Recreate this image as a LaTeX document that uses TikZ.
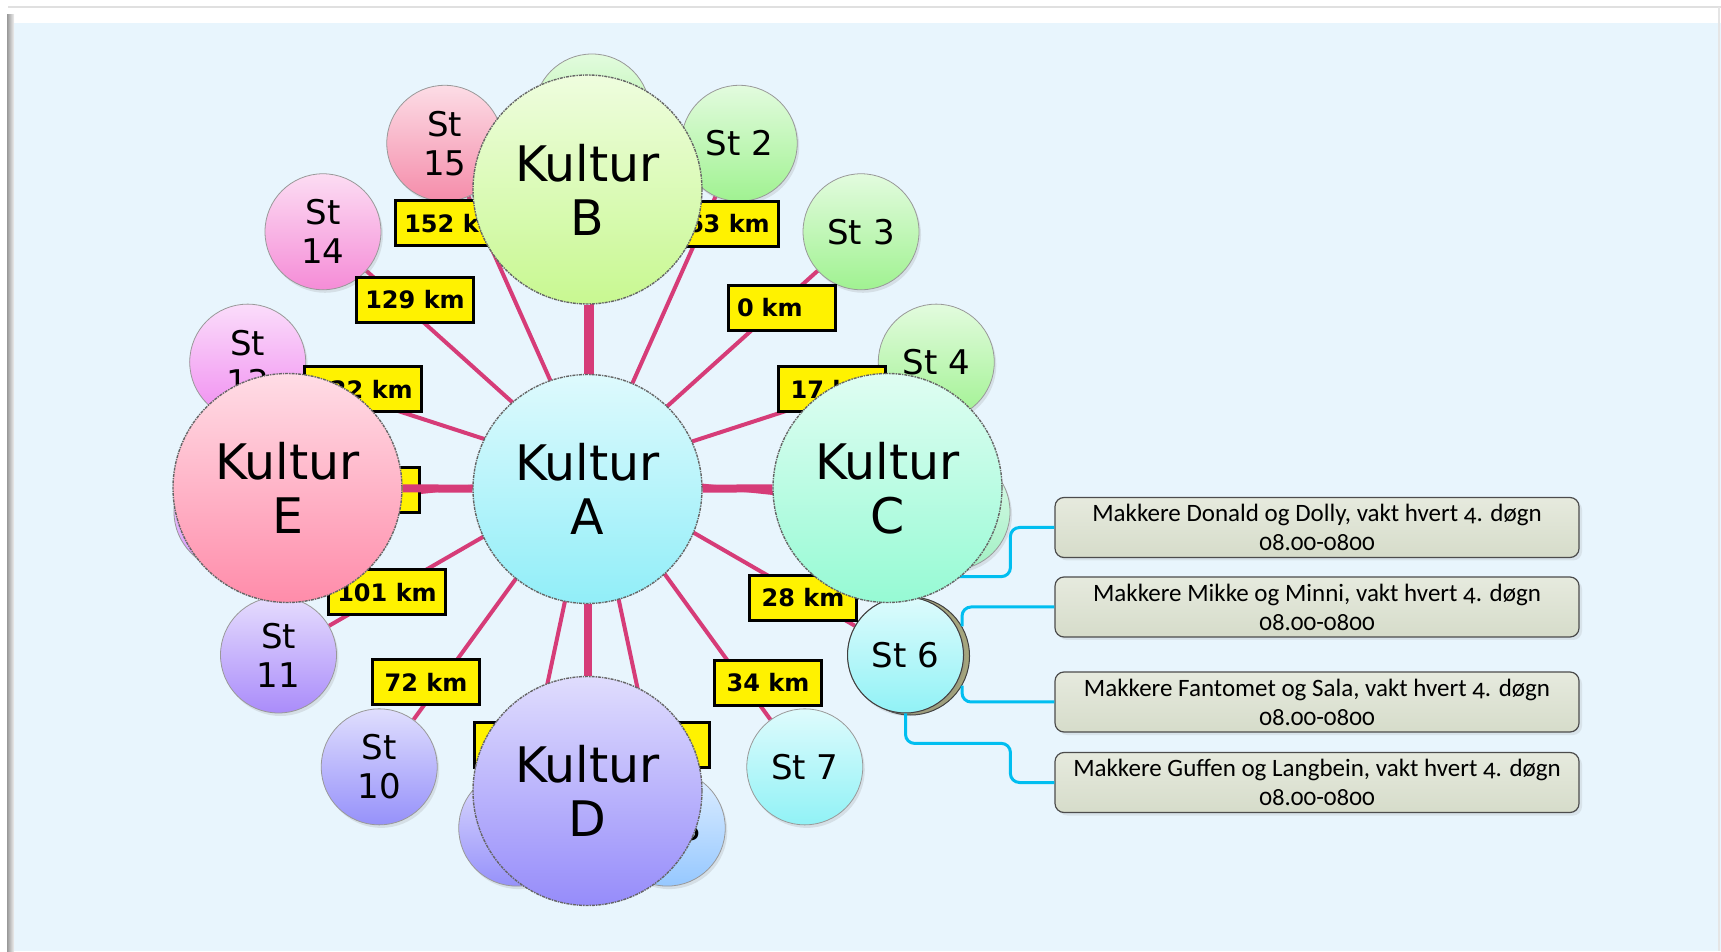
\documentclass[tikz,border=0pt]{standalone}
\usepackage{fontspec}
\setmainfont{DejaVu Sans}
\newfontfamily\notefont[Numbers=OldStyle]{Carlito}
\usetikzlibrary{shadows}

\definecolor{panelblue}{RGB}{232,245,253}
\definecolor{spoke}{RGB}{214,60,120}
\definecolor{linkblue}{RGB}{0,190,240}
\definecolor{notetop}{RGB}{230,234,222}
\definecolor{notebot}{RGB}{214,220,202}
\definecolor{selring}{RGB}{165,165,125}
% station colours (bottom of the shading)
\definecolor{stgreen}{RGB}{160,242,145}
\definecolor{stmint}{RGB}{160,240,195}
\definecolor{stcyan}{RGB}{145,242,246}
\definecolor{stsky}{RGB}{150,200,255}
\definecolor{stblue}{RGB}{150,145,250}
\definecolor{stviolet}{RGB}{170,140,250}
\definecolor{stlilac}{RGB}{215,150,250}
\definecolor{stmagenta}{RGB}{240,140,240}
\definecolor{stpink}{RGB}{245,140,215}
\definecolor{strose}{RGB}{245,140,170}
% kultur colours
\definecolor{kulA}{RGB}{145,238,248}
\definecolor{kulB}{RGB}{200,248,145}
\definecolor{kulC}{RGB}{150,250,212}
\definecolor{kulD}{RGB}{150,140,250}
\definecolor{kulE}{RGB}{255,140,170}

\pgfdeclarelayer{bg}
\pgfdeclarelayer{back}
\pgfdeclarelayer{links}
\pgfdeclarelayer{front}
\pgfsetlayers{bg,back,main,links,front}

\tikzset{
  station/.style={circle, minimum size=116, inner sep=0, draw=black!40, line width=0.8,
    top color=#1!30!white, bottom color=#1, align=center,
    font=\fontsize{34}{39}\selectfont,
    drop shadow={shadow xshift=2, shadow yshift=-3, opacity=0.18}},
  kultur/.style={circle, minimum size=229, inner sep=0, draw=black!60, line width=1.4,
    densely dash dot, top color=#1!30!white, bottom color=#1, align=center,
    font=\fontsize{49}{54}\selectfont},
  km/.style={draw=black, line width=3, fill=yellow, minimum width=107, minimum height=45,
    inner xsep=9, font=\bfseries\fontsize{24}{26}\selectfont},
  note/.style={rectangle, rounded corners=9, draw=black!70, line width=1.2,
    top color=notetop, bottom color=notebot, minimum width=524, minimum height=60,
    inner sep=2, align=center, font=\notefont\fontsize{25}{29}\selectfont,
    drop shadow={shadow xshift=3, shadow yshift=-3, opacity=0.15}},
  spokeline/.style={spoke, line width=4},
  noteline/.style={linkblue, line width=3, rounded corners=9}
}

\begin{document}
\begin{tikzpicture}[x=1pt, y=1pt]
  \useasboundingbox (0,0) rectangle (1721,951);

  % panel
  \begin{pgfonlayer}{bg}
    \fill[white] (0,0) rectangle (1721,951);
    \fill[panelblue] (9,0) rectangle (1721,928);
    \draw[black!12, line width=1.5] (8,944) -- (1721,944);
    \shade[left color=black!40, right color=black!6] (7,0) rectangle (14,936);
    \draw[black!10, line width=1.5] (1719,0) -- (1719,944);
  \end{pgfonlayer}

  \coordinate (hub) at (592,477);

  % stations round the hub (1, 5, 9 and 12 sit hidden behind the kultur circles)
  \foreach \i/\col/\txt in {1/stgreen/, 2/stgreen/St 2, 3/stgreen/St 3, 4/stgreen/St 4,
      5/stmint/, 6/stcyan/St 6, 7/stcyan/St 7, 8/stsky/St 8, 9/stblue/,
      10/stblue/St\\10, 11/stviolet/St\\11, 12/stlilac/, 13/stmagenta/St\\13,
      14/stpink/St\\14, 15/strose/St\\15}
    \node[station=\col] (s\i) at ([shift={(114-24*\i:362)}]hub) {\txt};
  \draw[black!75, line width=1] (s6.center) circle (58);

  \begin{pgfonlayer}{back}
    \node[circle, minimum size=118, fill=selring, draw=black!75, line width=1] (s6ring)
      at ([shift={(5,-1)}]s6.center) {};
    \foreach \i in {1,...,15}
      \draw[spokeline] (hub) -- (s\i);
  \end{pgfonlayer}

  % distances
  \node[km] (d15) at (454,727.5) {152 km};
  \node[km] (d2) at (720,727) {163 km};
  \node[km, text width=89, align=left] (d3) at (781.5,643) {0 km};
  \node[km] (d4) at (832,562) {17 km};
  \node[km] (d6) at (803,353) {28 km};
  \node[km] (d7) at (768,268) {34 km};
  \node[km] (d8) at (655.5,206) {};
  \node[km] (d9) at (527.5,206) {};
  \node[km] (d10) at (426,268.5) {72 km};
  \node[km] (d11) at (387,358.5) {101 km};
  \node[km] (d12) at (365.5,461) {};
  \node[km] (d13) at (363,562) {122 km};
  \node[km] (d14) at (415,651) {129 km};

  % notes for St 6
  \node[note] (n1) at (1317,423.5) {Makkere Donald og Dolly, vakt hvert 4. døgn\\08.00-0800};
  \node[note] (n2) at (1317,344) {Makkere Mikke og Minni, vakt hvert 4. døgn\\08.00-0800};
  \node[note] (n3) at (1317,249) {Makkere Fantomet og Sala, vakt hvert 4. døgn\\08.00-0800};
  \node[note] (n4) at (1317,168.5) {Makkere Guffen og Langbein, vakt hvert 4. døgn\\08.00-0800};

  % the five kultur circles
  \begin{pgfonlayer}{front}
    \node[kultur=kulA] (A) at (587.5,462) {Kultur\\A};
    \node[kultur=kulB] (B) at (587.5,761.5) {Kultur\\B};
    \node[kultur=kulC] (C) at (887.5,463) {Kultur\\C};
    \node[kultur=kulD] (D) at (587.5,160) {Kultur\\D};
    \node[kultur=kulE] (E) at (287.5,463) {Kultur\\E};
  \end{pgfonlayer}

  \begin{pgfonlayer}{links}
    \foreach \k in {B,C,D,E}
      \draw[spokeline, line width=8] (A) -- (\k);
    \draw[noteline] (s6.north) -- ++(0,20) -| ([xshift=-44]n1.west) -- (n1.west);
    \draw[noteline] (s6ring.30) |- (n2.west);
    \draw[noteline] (s6ring.-30) |- (n3.west);
    \draw[noteline] (s6.south) -- ++(0,-30) -| ([xshift=-44]n4.west) -- (n4.west);
  \end{pgfonlayer}
\end{tikzpicture}
\end{document}
